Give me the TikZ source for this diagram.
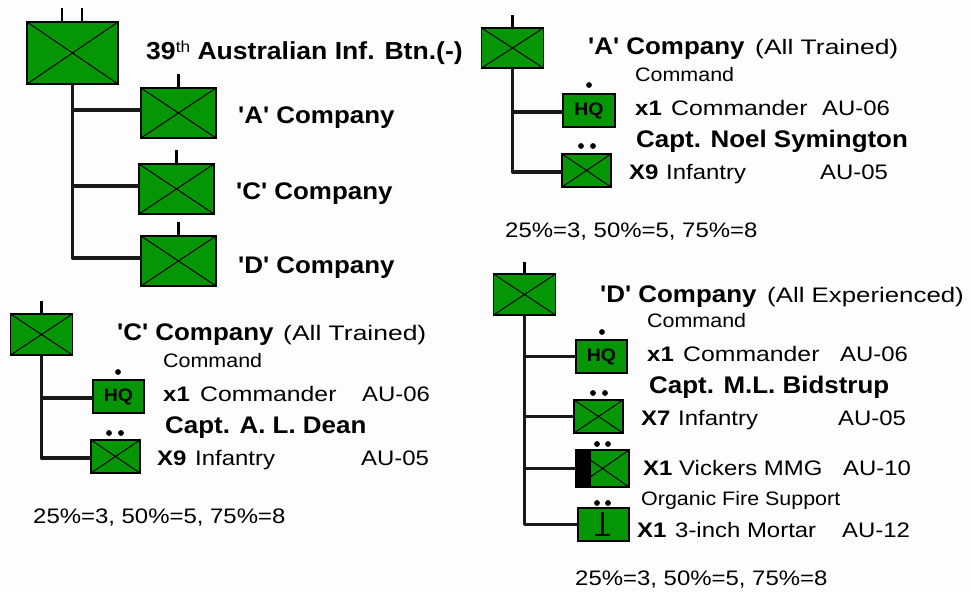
\documentclass[tikz,border=0pt]{standalone}
\usepackage{fontspec}
\setmainfont{Liberation Sans}
\newfontfamily\headfam[FakeStretch=1.08]{Liberation Sans}
\newfontfamily\bodyfam[FakeStretch=1.14]{Liberation Sans}
\newfontfamily\wordfam[FakeStretch=1.18]{Liberation Sans}
\newfontfamily\smallfam[FakeStretch=1.10]{Liberation Sans}
\newfontfamily\trainfam[FakeStretch=1.26]{Liberation Sans}
\newfontfamily\expfam[FakeStretch=1.23]{Liberation Sans}
\definecolor{armygreen}{RGB}{4,150,4}
\definecolor{paper}{RGB}{253,253,253}
\newcommand{\unitbox}[5]{\node[unitbox,minimum width=#4pt,minimum height=#5pt] (#1) at (#2,#3) {};}
\newcommand{\crossed}[1]{\draw[thin line] (#1.north west) -- (#1.south east) (#1.north east) -- (#1.south west);}
\newcommand{\trained}{\trainfam\mdseries\fontsize{21}{21}\selectfont}
\newcommand{\experienced}{\expfam\mdseries\fontsize{21}{21}\selectfont}
\tikzset{
  unitbox/.style={draw=black,line width=1.6pt,fill=armygreen,inner sep=0pt,outer sep=0pt},
  hqbox/.style={unitbox,font=\headfam\fontsize{18}{18}\selectfont\bfseries},
  thin line/.style={draw=black,line width=1pt},
  conn/.style={draw=black!90,line width=3.2pt,line join=round},
  tick/.style={draw=black,line width=2.4pt},
  pip/.style={circle,fill=black,inner sep=0pt,minimum size=5.8pt},
  head/.style={anchor=base west,inner sep=0pt,font=\headfam\fontsize{24}{24}\selectfont\bfseries},
  body/.style={anchor=base west,inner sep=0pt,font=\bodyfam\fontsize{21}{21}\selectfont},
  small/.style={anchor=base west,inner sep=0pt,font=\smallfam\fontsize{19.5}{20}\selectfont},
  word/.style={anchor=base west,inner sep=0pt,font=\wordfam\fontsize{21}{21}\selectfont},
}
\begin{document}
\begin{tikzpicture}[x=1pt,y=-1pt]
\useasboundingbox[fill=paper] (0,0) rectangle (971,592);
% Battalion
\unitbox{bn}{72.5}{53}{91}{62}\crossed{bn}
\unitbox{ba}{178.5}{113}{75}{50}\crossed{ba}
\unitbox{bc}{176.5}{189}{75}{50}\crossed{bc}
\unitbox{bd}{178.5}{261}{75}{50}\crossed{bd}
\coordinate (bnt1) at (62,8);\coordinate (bnt2) at (82,8);
\draw[tick] (bnt1) -- (bnt1 |- bn.north);
\draw[tick] (bnt2) -- (bnt2 |- bn.north);
\foreach \n/\y in {ba/74,bc/150,bd/222}{\coordinate (t\n) at (\n.north |- 0,\y);\draw[tick] (t\n) -- (\n.north);}
\draw[conn] (bn.south) |- ([yshift=3pt]ba.west);
\draw[conn] (bn.south) |- ([yshift=3pt]bc.west);
\draw[conn] (bn.south) |- ([yshift=3pt]bd.west);
\node[head,font=\headfam\fontsize{24.6}{25}\selectfont\bfseries] (bnl) at (146,59) {39\raisebox{7pt}{\fontsize{16}{16}\selectfont\mdseries th} Australian Inf. Btn.(-)};
\node[head] (bal) at (238,123) {'A' Company};
\node[head] (bcl) at (236,199) {'C' Company};
\node[head] (bdl) at (238,273) {'D' Company};
% A company
\unitbox{ah}{512.5}{48}{62}{40}\crossed{ah}
\coordinate (aht) at (512.5,15);\draw[tick] (aht) -- (ah.north);
\node[hqbox,minimum width=52pt,minimum height=33pt] (aq) at (589,110.5) {HQ};
\unitbox{ai}{586.5}{170.5}{49}{33}\crossed{ai}
\draw[conn] (ah.south) |- ([yshift=-1.5pt]aq.west);
\draw[conn] (ah.south) |- ([yshift=-1.5pt]ai.west);
\node[pip] (ap1) at (589,85) {};
\node[pip] (ap2) at (581,146) {};\node[pip] (ap3) at (593,146) {};
\node[head] (al1) at (588,54) {'A' Company};
\node[body] (al1b) at (755,54) {\trained(All Trained)};
\node[small] (al2) at (635,81) {Command};
\node[body] (al3) at (635,115) {\bfseries x1};
\node[word] (al3b) at (671,115) {Commander};
\node[body] (al3c) at (822,115) {AU-06};
\node[head] (al4) at (636,147) {Capt. Noel Symington};
\node[body] (al5) at (629,179) {\bfseries X9};
\node[body] (al5b) at (666,179) {Infantry};
\node[body] (al5c) at (820,179) {AU-05};
\node[body] (al6) at (505,237) {25\%=3, 50\%=5, 75\%=8};
% C company
\unitbox{ch}{41.5}{334.5}{62}{41}\crossed{ch}
\coordinate (cht) at (41.5,301);\draw[tick] (cht) -- (ch.north);
\node[hqbox,minimum width=51pt,minimum height=33pt] (cq) at (118.5,396.5) {HQ};
\unitbox{ci}{115.5}{456.5}{49}{33}\crossed{ci}
\draw[conn] (ch.south) |- ([yshift=-1.5pt]cq.west);
\draw[conn] (ch.south) |- ([yshift=-1.5pt]ci.west);
\node[pip] (cp1) at (118,372) {};
\node[pip] (cp2) at (109,433) {};\node[pip] (cp3) at (121,433) {};
\node[head] (cl1) at (117,340) {'C' Company};
\node[body] (cl1b) at (283,340) {\trained(All Trained)};
\node[small] (cl2) at (163,367) {Command};
\node[body] (cl3) at (163,401) {\bfseries x1};
\node[word] (cl3b) at (200,401) {Commander};
\node[body] (cl3c) at (362,401) {AU-06};
\node[head] (cl4) at (165,433) {Capt. A. L. Dean};
\node[body] (cl5) at (157,465) {\bfseries X9};
\node[body] (cl5b) at (195,465) {Infantry};
\node[body] (cl5c) at (361,465) {AU-05};
\node[body] (cl6) at (33,523) {25\%=3, 50\%=5, 75\%=8};
% D company
\unitbox{dh}{524.5}{294.5}{62}{41}\crossed{dh}
\coordinate (dht) at (524.5,262);\draw[tick] (dht) -- (dh.north);
\node[hqbox,minimum width=51pt,minimum height=33pt] (dq) at (601.5,356.5) {HQ};
\unitbox{di}{598.5}{416.5}{49}{33}\crossed{di}
\unitbox{dm}{602.5}{468.5}{53}{37}\crossed{dm}
\node[fill=black,inner sep=0pt,minimum width=15pt,minimum height=37pt,anchor=north west] (dmb) at (dm.north west) {};
\unitbox{dr}{603.5}{524.5}{51}{33}
\coordinate (drt) at (602.5,512);\coordinate (drb) at (602.5,536);
\coordinate (drl) at (595,535);\coordinate (drr) at (610,535);
\draw[tick] (drt) -- (drb);\draw[tick] (drl) -- (drr);
\draw[conn] (dh.south) |- (dq.west);
\draw[conn] (dh.south) |- (di.west);
\draw[conn] (dh.south) |- (dmb.west);
\draw[conn] (dh.south) |- (dr.west);
\node[pip] (dp1) at (602,332) {};
\node[pip] (dp2) at (593,393) {};\node[pip] (dp3) at (605,393) {};
\node[pip] (dp4) at (597,444) {};\node[pip] (dp5) at (608,444) {};
\node[pip] (dp6) at (597,503) {};\node[pip] (dp7) at (608,503) {};
\node[head] (dl1) at (600,302) {'D' Company};
\node[body] (dl1b) at (767,302) {\experienced(All Experienced)};
\node[small] (dl2) at (647,327) {Command};
\node[body] (dl3) at (647,361) {\bfseries x1};
\node[word] (dl3b) at (683,361) {Commander};
\node[body] (dl3c) at (840,361) {AU-06};
\node[head] (dl4) at (649,393) {Capt. M.L. Bidstrup};
\node[body] (dl5) at (641,425) {\bfseries X7};
\node[body] (dl5b) at (678,425) {Infantry};
\node[body] (dl5c) at (838,425) {AU-05};
\node[body] (dl6) at (643,475) {\bfseries X1};
\node[body] (dl6b) at (679,475) {Vickers MMG};
\node[body] (dl6c) at (843,475) {AU-10};
\node[small] (dl7) at (641,505) {Organic Fire Support};
\node[body] (dl8) at (637,537) {\bfseries X1};
\node[body] (dl8b) at (675,537) {3-inch Mortar};
\node[body] (dl8c) at (842,537) {AU-12};
\node[body] (dl9) at (575,585) {25\%=3, 50\%=5, 75\%=8};
\end{tikzpicture}
\end{document}
